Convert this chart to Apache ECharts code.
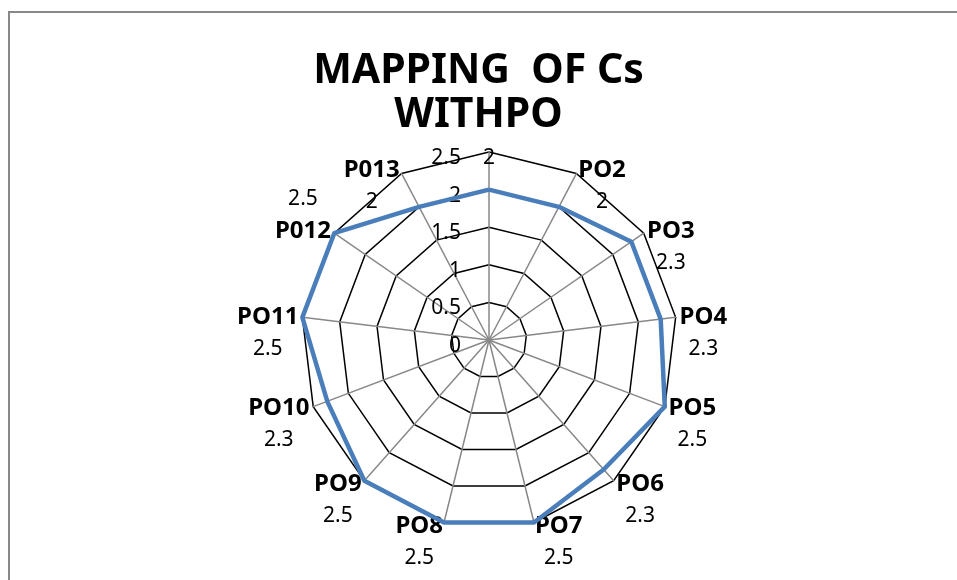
<!DOCTYPE html>
<html>
<head>
<meta charset="utf-8">
<script src="https://cdn.jsdelivr.net/npm/echarts@6/dist/echarts.min.js"></script>
<style>
  html, body { margin: 0; padding: 0; background: #fff; }
  #frame { position: absolute; left: 8px; top: 11px; width: 1000px; height: 700px;
           border-left: 2px solid #888; border-top: 2px solid #888; }
  #main { position: absolute; left: 0; top: 0; width: 957px; height: 580px; }
</style>
</head>
<body>
<div id="frame"></div>
<div id="main"></div>
<script>
  // 类目（顺时针，从顶部开始）
  var categories = ['', 'PO2', 'PO3', 'PO4', 'PO5', 'PO6', 'PO7', 'PO8', 'PO9', 'PO10', 'PO11', 'P012', 'P013'];
  var values = [2, 2, 2.3, 2.3, 2.5, 2.3, 2.5, 2.5, 2.5, 2.3, 2.5, 2.5, 2];
  var tickLabels = ['0', '0.5', '1', '1.5', '2', '2.5'];
  var maxValue = 2.5;

  // echarts 雷达图是逆时针排列的，这里倒过来
  var order = [0];
  for (var i = categories.length - 1; i > 0; i--) order.push(i);

  var indicators = order.map(function (k) {
    var ind = { name: categories[k], max: maxValue, min: 0 };
    if (k === 0) {
      // 只在顶部这根轴上显示刻度
      ind.axisLabel = {
        show: true,
        color: '#000',
        fontSize: 21,
        fontFamily: 'Noto Sans',
        margin: 28,
        verticalAlign: 'top',
        lineHeight: 12
      };
    }
    return ind;
  });

  var chart = echarts.init(document.getElementById('main'));
  chart.setOption({
    animation: false,
    title: {
      text: 'MAPPING  OF Cs\nWITHPO',
      left: 'center',
      top: 44,
      textStyle: {
        color: '#000',
        fontFamily: 'Noto Sans',
        fontWeight: 'bold',
        fontSize: 41,
        lineHeight: 44
      }
    },
    radar: {
      center: [489, 340],
      radius: 188,
      startAngle: 90,
      shape: 'polygon',
      splitNumber: tickLabels.length - 1,
      indicator: indicators,
      nameGap: 4,
      axisName: {
        color: '#000',
        fontFamily: 'Noto Sans',
        verticalAlign: 'middle',
        formatter: function (name) {
          var k = categories.indexOf(name);
          var v = String(values[k]);
          if (k === 0) return '{q| }\n{v|' + v + '}';
          if (name === 'P012') return '{v|' + v + '}\n{n|' + name + '}\n{p| }';
          return '{p| }\n{n|' + name + '}\n{v|' + v + '}';
        },
        rich: {
          n: { fontWeight: 'bold', fontSize: 24, lineHeight: 30, color: '#000', fontFamily: 'Noto Sans' },
          v: { fontSize: 21, lineHeight: 34, align: 'center', color: '#000', fontFamily: 'Noto Sans' },
          p: { fontSize: 21, lineHeight: 34 },
          q: { fontSize: 10, lineHeight: 20 }
        }
      },
      axisLine: { lineStyle: { color: '#888', width: 1.5 } },
      splitLine: { lineStyle: { color: '#000', width: 1.5 } },
      splitArea: { show: false },
      axisTick: { show: false },
      axisLabel: { show: false }
    },
    series: [{
      name: 'MAPPING OF Cs WITHPO',
      type: 'radar',
      symbol: 'none',
      lineStyle: { color: '#4a7ebb', width: 4.5 },
      data: [{ value: order.map(function (k) { return values[k]; }) }]
    }]
  });
</script>
</body>
</html>
